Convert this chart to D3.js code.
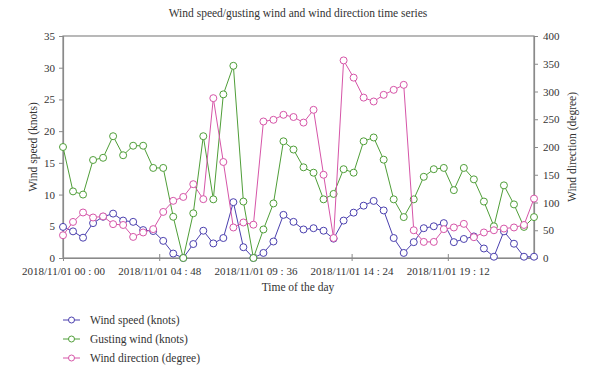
<!DOCTYPE html>
<html>
<head>
<meta charset="utf-8">
<script src="https://cdn.jsdelivr.net/npm/d3@7"></script>
<style>
  body { margin: 0; background: #fff; }
  svg { font-family: "Liberation Serif", "DejaVu Serif", serif; }
</style>
</head>
<body>
<div id="chart"></div>
<script>
// half-hourly samples over the day (hours since 00:00)
const hours = d3.range(0, 24, 0.5);

const windSpeed = [4.9, 4.2, 3.2, 5.5, 6.5, 7.0, 5.9, 5.7, 4.4, 4.25, 2.7, 0.7,
  0, 2.2, 4.3, 2.3, 3.15, 8.8, 1.7, 0, 0.8, 2.6, 6.8, 5.7,
  4.5, 4.7, 4.3, 3.05, 5.9, 7.15, 8.25, 9.0, 7.5, 3.15, 0.8, 2.5,
  4.7, 5.0, 5.5, 2.5, 3.0, 3.4, 1.5, 0.2, 4.2, 2.25, 0.2, 0.2];

const gustWind = [17.5, 10.5, 10.0, 15.45, 15.8, 19.2, 16.2, 17.7, 17.7, 14.2, 14.2, 6.5,
  0, 7.05, 19.2, 9.25, 25.8, 30.3, 8.9, 0, 4.5, 8.6, 18.4, 17.1,
  14.3, 13.45, 9.25, 10.1, 14.0, 13.45, 18.4, 19.0, 15.5, 9.25, 6.45, 9.25,
  12.8, 14.0, 14.2, 10.7, 14.2, 12.4, 8.9, 5.0, 11.45, 8.45, 4.9, 6.45];

const windDir = [41, 65, 82, 73, 75, 61, 59.5, 38, 46, 52, 83, 103,
  110, 133, 106, 288, 173, 55, 64, 60, 246, 249, 258, 254,
  244, 267, 150, 36, 356, 325, 289, 282, 294, 303, 312, 50,
  29, 29, 52, 55, 61.5, 37.5, 46, 50, 53, 55, 59.5, 107];

const xTickHours = [0, 4.8, 9.6, 14.4, 19.2];
const xTickLabels = ["2018/11/01 00 : 00", "2018/11/01 04 : 48", "2018/11/01 09 : 36",
  "2018/11/01 14 : 24", "2018/11/01 19 : 12"];

const width = 600, height = 373;
const margin = { top: 36, right: 66, bottom: 115, left: 63 };
const axisColor = "#8a8a8a";
const textColor = "#333";

const svg = d3.select("#chart").append("svg")
  .attr("width", width)
  .attr("height", height);

const x = d3.scaleLinear().domain([0, 23.5]).range([margin.left, width - margin.right]);
const yL = d3.scaleLinear().domain([0, 35]).range([height - margin.bottom, margin.top]);
const yR = d3.scaleLinear().domain([0, 400]).range([height - margin.bottom, margin.top]);

const series = [
  { name: "Wind speed (knots)", values: windSpeed, y: yL, color: "#4a3fae" },
  { name: "Gusting wind (knots)", values: gustWind, y: yL, color: "#4f9e38" },
  { name: "Wind direction (degree)", values: windDir, y: yR, color: "#d655a8" },
];

// frame
svg.append("rect")
  .attr("x", x.range()[0])
  .attr("y", margin.top)
  .attr("width", x.range()[1] - x.range()[0])
  .attr("height", yL.range()[0] - margin.top)
  .attr("fill", "none")
  .attr("stroke", axisColor)
  .attr("stroke-width", 1.2);

function styleAxis(g) {
  g.select(".domain").attr("stroke", axisColor).attr("stroke-width", 1.2);
  g.selectAll(".tick line").attr("stroke", axisColor);
  g.selectAll(".tick text").attr("fill", textColor).style("font-size", "11px")
    .style("font-family", "Liberation Serif, serif");
}

// left axis
svg.append("g")
  .attr("transform", `translate(${margin.left},0)`)
  .call(d3.axisLeft(yL).tickValues(d3.range(0, 36, 5)).tickSize(4).tickPadding(4))
  .call(styleAxis);

// right axis
svg.append("g")
  .attr("transform", `translate(${width - margin.right},0)`)
  .call(d3.axisRight(yR).tickValues(d3.range(0, 401, 50)).tickSize(4).tickPadding(5))
  .call(styleAxis);

// bottom axis
const xAxis = svg.append("g")
  .attr("transform", `translate(0,${yL.range()[0]})`)
  .call(d3.axisBottom(x).tickValues(xTickHours).tickSize(0).tickPadding(9)
    .tickFormat((d, i) => xTickLabels[i]))
  .call(styleAxis);
xAxis.selectAll(".tick line").attr("y1", -4).attr("y2", 3);

// lines and markers
const line = d3.line();
series.forEach((s) => {
  const pts = s.values.map((v, i) => [x(hours[i]), s.y(v)]);
  svg.append("path")
    .attr("d", line(pts))
    .attr("fill", "none")
    .attr("stroke", s.color)
    .attr("stroke-width", 1);
  svg.append("g").selectAll("circle")
    .data(pts)
    .enter()
    .append("circle")
    .attr("cx", (d) => d[0])
    .attr("cy", (d) => d[1])
    .attr("r", 3.5)
    .attr("fill", "#fff")
    .attr("stroke", s.color)
    .attr("stroke-width", 1);
});

// title
svg.append("text")
  .attr("x", 298)
  .attr("y", 17)
  .attr("text-anchor", "middle")
  .attr("fill", textColor)
  .style("font-size", "11.5px")
  .text("Wind speed/gusting wind and wind direction time series");

// axis titles
svg.append("text")
  .attr("x", 298)
  .attr("y", 291)
  .attr("text-anchor", "middle")
  .attr("fill", textColor)
  .style("font-size", "11.5px")
  .text("Time of the day");

svg.append("text")
  .attr("transform", `translate(37,${(margin.top + yL.range()[0]) / 2}) rotate(-90)`)
  .attr("text-anchor", "middle")
  .attr("fill", textColor)
  .style("font-size", "11.5px")
  .text("Wind speed (knots)");

svg.append("text")
  .attr("transform", `translate(576,${(margin.top + yL.range()[0]) / 2}) rotate(-90)`)
  .attr("text-anchor", "middle")
  .attr("fill", textColor)
  .style("font-size", "11.5px")
  .text("Wind direction (degree)");

// legend
const legend = svg.append("g").attr("transform", "translate(63,320)");
const rows = legend.selectAll("g")
  .data(series)
  .enter()
  .append("g")
  .attr("transform", (d, i) => `translate(0,${i * 19})`);
rows.append("line")
  .attr("x1", 0).attr("x2", 17)
  .attr("stroke", (d) => d.color);
rows.append("circle")
  .attr("cx", 8.5).attr("r", 3)
  .attr("fill", "#fff")
  .attr("stroke", (d) => d.color);
rows.append("text")
  .attr("x", 27)
  .attr("dy", "0.35em")
  .attr("fill", textColor)
  .style("font-size", "11.5px")
  .text((d) => d.name);
</script>
</body>
</html>
